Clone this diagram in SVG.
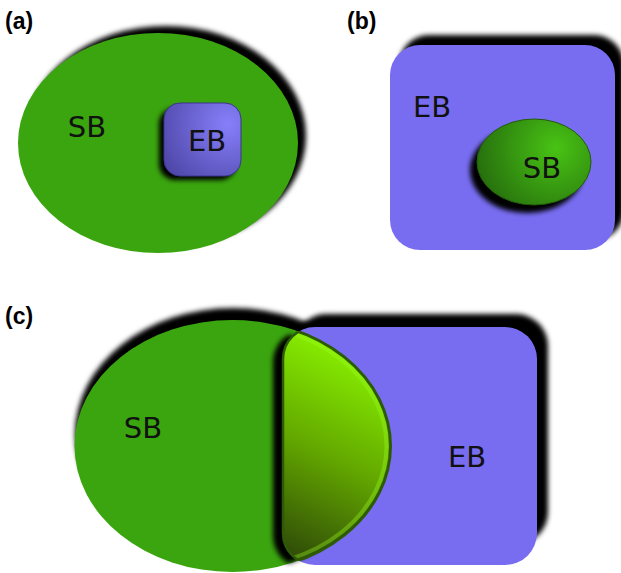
<svg xmlns="http://www.w3.org/2000/svg" width="621" height="573" viewBox="0 0 621 573">
  <style>
    .lbl { font-family: "DejaVu Sans", "Liberation Sans", sans-serif; font-size: 29px; fill: #111; text-anchor: middle; }
    .tag { font-family: "Liberation Sans", Arial, sans-serif; font-size: 23px; font-weight: bold; fill: #000; }
    .green { fill: #3aa50e; }
    .purple { fill: #786df1; }
    .shadow { fill: #000; filter: url(#blur); }
  </style>
  <defs>
    <filter id="blur" x="-20%" y="-20%" width="140%" height="140%">
      <feGaussianBlur stdDeviation="2.5"/>
    </filter>
    <radialGradient id="gEB" cx="228" cy="124" r="80" gradientUnits="userSpaceOnUse">
      <stop offset="0" stop-color="#877ffa"/>
      <stop offset="1" stop-color="#4a43a2"/>
    </radialGradient>
    <radialGradient id="gSB" cx="556" cy="148" r="85" gradientUnits="userSpaceOnUse">
      <stop offset="0" stop-color="#48c314"/>
      <stop offset="1" stop-color="#256b0d"/>
    </radialGradient>
    <linearGradient id="gLens" x1="380" y1="365" x2="285" y2="555" gradientUnits="userSpaceOnUse">
      <stop offset="0" stop-color="#88f000"/>
      <stop offset="0.5" stop-color="#62a600"/>
      <stop offset="1" stop-color="#2f4a08"/>
    </linearGradient>
    <clipPath id="clipE">
      <ellipse cx="232.5" cy="446" rx="158" ry="126"/>
    </clipPath>
    <clipPath id="clipR">
      <rect x="283" y="327" width="254" height="238" rx="32"/>
    </clipPath>
  </defs>

  <!-- panel labels -->
  <text class="tag" x="5" y="29">(a)</text>
  <text class="tag" x="347" y="29">(b)</text>
  <text class="tag" x="5" y="324">(c)</text>

  <!-- (a) -->
  <g id="a-SB">
    <ellipse class="shadow" cx="166" cy="136" rx="140" ry="110"/>
    <ellipse class="green" cx="158" cy="143" rx="140" ry="110"/>
    <text class="lbl" x="87" y="137">SB</text>
  </g>
  <g id="a-EB">
    <rect class="shadow" x="159" y="108" width="77" height="72" rx="16"/>
    <rect x="164" y="103" width="77" height="73" rx="16" fill="url(#gEB)" stroke="#3c3590" stroke-width="1"/>
    <text class="lbl" x="207" y="151">EB</text>
  </g>

  <!-- (b) -->
  <g id="b-EB">
    <rect class="shadow" x="399" y="35" width="225" height="205" rx="30"/>
    <rect class="purple" x="390" y="45" width="225" height="205" rx="30"/>
    <text class="lbl" x="432" y="117">EB</text>
  </g>
  <g id="b-SB">
    <ellipse class="shadow" cx="527" cy="170" rx="57" ry="43"/>
    <ellipse cx="534" cy="162" rx="57" ry="43" fill="url(#gSB)" stroke="#225a0c" stroke-width="1"/>
    <text class="lbl" x="542" y="178">SB</text>
  </g>

  <!-- (c) -->
  <g id="c-shadows">
    <ellipse class="shadow" cx="233" cy="434" rx="158" ry="126"/>
    <rect class="shadow" x="294" y="314" width="254" height="230" rx="32"/>
  </g>
  <g id="c-EB">
    <rect class="purple" x="283" y="327" width="254" height="238" rx="32"/>
    <text class="lbl" x="467" y="467">EB</text>
  </g>
  <g id="c-SB">
    <ellipse class="green" cx="232.5" cy="446" rx="158" ry="126"/>
    <text class="lbl" x="143" y="438">SB</text>
  </g>
  <g id="c-overlap">
    <g transform="translate(-10,3)" filter="url(#blur)">
      <rect x="283" y="327" width="254" height="238" rx="32" fill="#000" clip-path="url(#clipE)"/>
    </g>
    <rect x="283" y="327" width="254" height="238" rx="32" fill="url(#gLens)" clip-path="url(#clipE)"/>
    <ellipse cx="232.5" cy="446" rx="154" ry="122" fill="none" stroke="#9cff20" stroke-opacity="0.35" stroke-width="4" clip-path="url(#clipR)"/>
    <ellipse cx="232.5" cy="446" rx="158" ry="126" fill="none" stroke="#2d5a06" stroke-width="3" clip-path="url(#clipR)"/>
    <rect x="283" y="327" width="254" height="238" rx="32" fill="none" stroke="#2d5a06" stroke-width="2.5" clip-path="url(#clipE)"/>
  </g>
</svg>
